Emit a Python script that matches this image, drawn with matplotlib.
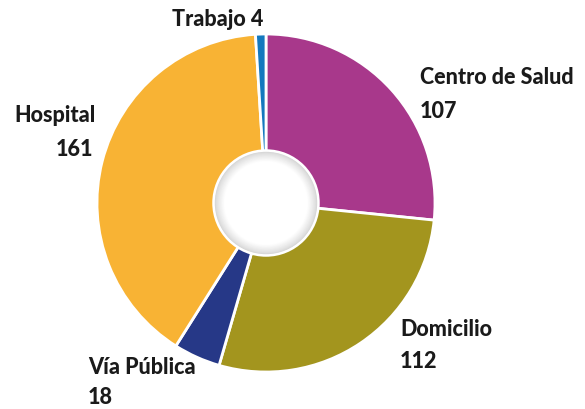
import matplotlib
matplotlib.use("Agg")
import matplotlib.pyplot as plt
from matplotlib.patches import Circle

categories = ["Centro de Salud", "Domicilio", "Vía Pública", "Hospital", "Trabajo"]
values = [107, 112, 18, 161, 4]
colors = ["#A8388B", "#A3951E", "#263887", "#F8B334", "#1478BE"]

W, H = 585, 409
cx, cy, R = 266, 203, 169  # pie centre and radius in pixels

fig = plt.figure(figsize=(W / 100, H / 100), dpi=100)
ax = fig.add_axes([0, 0, 1, 1])

ax.pie(values, colors=colors, startangle=90, counterclock=False, radius=1.0,
       wedgeprops=dict(edgecolor="white", linewidth=2))
ax.set_aspect("auto")
ax.set_xlim(-cx / R, (W - cx) / R)
ax.set_ylim(-(H - cy) / R, cy / R)
ax.axis("off")

# centre hole with a soft inner shadow
hole_r = 0.318
ax.add_patch(Circle((0, 0), hole_r, facecolor="white", edgecolor="none", zorder=5))
inner = 0.303
steps = 16
for i in range(steps):
    r = inner - i * 0.0035
    g = 0.84 + 0.16 * (i / steps) ** 0.8
    ax.add_patch(Circle((0, 0), r, facecolor=(g, g, g), edgecolor="none", zorder=6 + i))
ax.add_patch(Circle((0, 0), inner - steps * 0.0035, facecolor="white", edgecolor="none", zorder=30))

font = dict(family=["Lato", "DejaVu Sans"], fontweight="black", fontsize=15.5, color="#1a1a1a")

def label(px, py, text, ha="left"):
    fig.text(px / W, 1 - py / H, text, ha=ha, va="center", **font)

label(420, 78, categories[0])
label(420, 112, str(values[0]))
label(400, 330, categories[1])
label(400, 362, str(values[1]))
label(88, 367, categories[2])
label(88, 398, str(values[2]))
label(96, 116, categories[3], ha="right")
label(93, 150, str(values[3]), ha="right")
label(172, 19, f"{categories[4]} {values[4]}")

fig.savefig("out.png", dpi=100)
